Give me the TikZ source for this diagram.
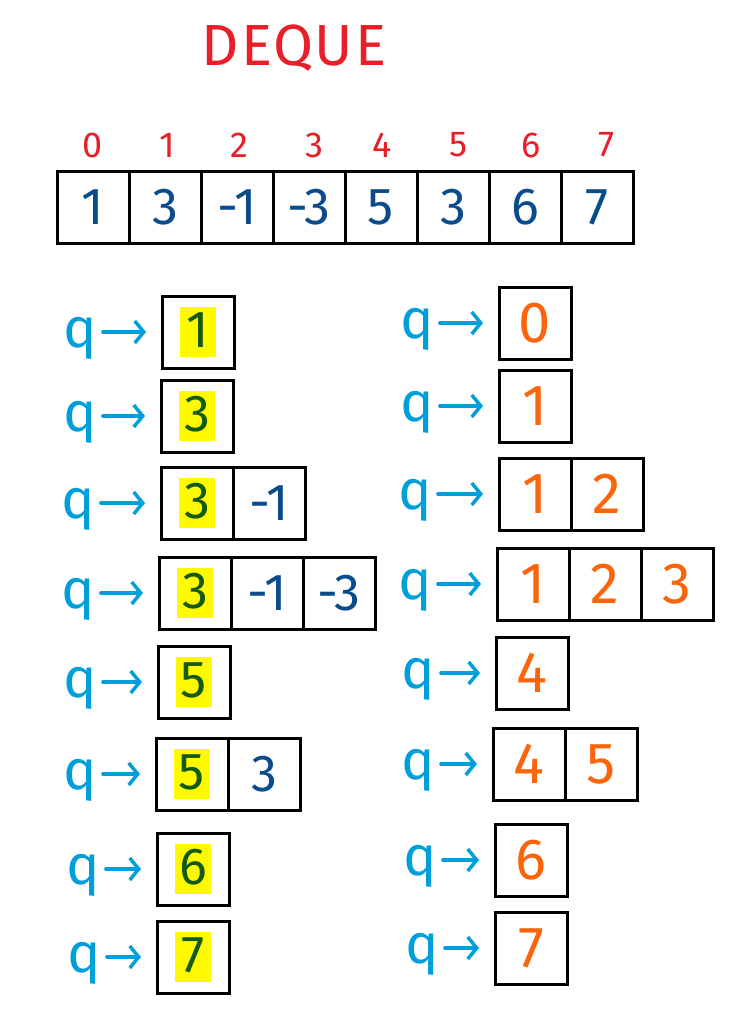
\documentclass[tikz,border=0pt]{standalone}
\usepackage{fontspec}
\setmainfont{Fira Sans}
\usetikzlibrary{positioning,arrows.meta}
\definecolor{qblue}{RGB}{0,158,219}
\definecolor{valblue}{RGB}{10,75,140}
\definecolor{idxred}{RGB}{232,30,40}
\definecolor{ordorange}{RGB}{250,100,10}
\definecolor{hlgreen}{RGB}{20,90,20}
\definecolor{hly}{RGB}{255,250,0}
\newcommand\hlt[1]{{\fboxsep=3pt\colorbox{hly}{\makebox[30pt]{\color{hlgreen}\rule[-7pt]{0pt}{44pt}#1}}}}
\tikzset{
  cell/.style={draw, line width=3pt, minimum size=72pt, inner sep=0pt, outer sep=0pt,
    font=\fontsize{52}{52}\selectfont},
  val/.style={cell, text=valblue},
  ord/.style={cell, text=ordorange, font=\fontsize{58}{58}\selectfont},
  idx/.style={text=idxred, font=\fontsize{36}{36}\selectfont},
  qlbl/.style={text=qblue, font=\fontsize{56}{56}\selectfont, inner sep=0pt,
    text height=30pt, text depth=0pt},
  ptr/.style={-{Straight Barb[length=9pt,width=22pt,line width=3.5pt]}, qblue, line width=3.5pt,
    line cap=round, shorten <=6pt, shorten >=16pt},
}

\begin{document}
\begin{tikzpicture}[x=1pt,y=-1pt]
    \useasboundingbox (0,0) rectangle (752,1031);
    \node[text=idxred, font=\fontsize{58}{58}\selectfont\addfontfeature{LetterSpace=3}] (ttl) at (294,48) {DEQUE};
    % the array and its indices
    \foreach \v [count=\i from 0] in {1,3,-1,-3,5,3,6,7}
      \node[val] (a\i) at (93+72*\i,207) {\v};
    \foreach \k/\dx in {0/0,1/2,2/2,3/5,4/1,5/6,6/6,7/9}
      \node[idx] (i\k) at (93+72*\k+\dx,145) {\k};

    % values
    \node[cell] (l1) at (198,332) {\hlt{1}};
    \node[cell] (l2) at (197,416) {\hlt{3}};
    \node[cell] (l3) at (197,503) {\hlt{3}};
    \node[val, right=0pt of l3] (l3b) {-1};
    \node[cell] (l4) at (195,593) {\hlt{3}};
    \node[val, right=0pt of l4] (l4b) {-1};
    \node[val, right=0pt of l4b] (l4c) {-3};
    \node[cell] (l5) at (194,682) {\hlt{5}};
    \node[cell] (l6) at (192,774) {\hlt{5}};
    \node[val, right=0pt of l6] (l6b) {3};
    \node[cell] (l7) at (193,869) {\hlt{6}};
    \node[cell] (l8) at (193,957) {\hlt{7}};

    % indices
    \node[ord] (r1) at (535,323) {0};
    \node[ord] (r2) at (535,406) {1};
    \node[ord] (r3) at (535,494) {1};
    \node[ord, right=0pt of r3] (r3b) {2};
    \node[ord] (r4) at (533,584) {1};
    \node[ord, right=0pt of r4] (r4b) {2};
    \node[ord, right=0pt of r4b] (r4c) {3};
    \node[ord] (r5) at (532,673) {4};
    \node[ord] (r6) at (529,764) {4};
    \node[ord, right=0pt of r6] (r6b) {5};
    \node[ord] (r7) at (531,860) {6};
    \node[ord] (r8) at (531,948) {7};

    \foreach \n/\x in {1/80,2/80,3/78,4/78,5/80,6/80,7/83,8/84} {
      \node[qlbl] (ql\n) at (\x,0 |- l\n) {q};
      \draw[ptr] (ql\n.east) -- (l\n.west);
    }
    \foreach \n/\x in {1/417,2/417,3/415,4/415,5/418,6/418,7/420,8/422} {
      \node[qlbl] (qr\n) at (\x,0 |- r\n) {q};
      \draw[ptr] (qr\n.east) -- (r\n.west);
    }
\end{tikzpicture}
\end{document}
